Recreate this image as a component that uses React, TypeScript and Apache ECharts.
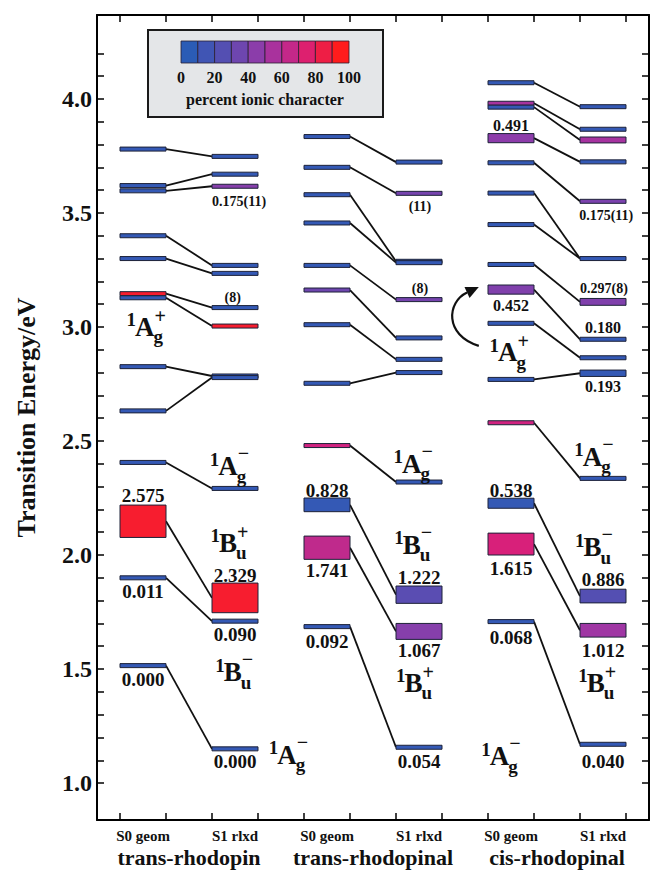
import React, { useEffect, useRef } from 'react';
import * as echarts from 'echarts';

const FONT = '"Liberation Serif", "Times New Roman", serif';

// ---------- categories / ticks ----------
const molecules = ['trans-rhodopin', 'trans-rhodopinal', 'cis-rhodopinal'];
const geometries = ['S0 geom', 'S1 rlxd'];
const s0Columns = [1, 5, 9];
const s1Columns = [3, 7, 11];
const moleculeCenters = [2, 6, 10];
const xTicks = [0.5, 1.5, 2.5, 3.5, 4.5, 5.5, 6.5, 7.5, 8.5, 9.5, 10.5, 11.5];
const xLabelValues = [1, 3, 5, 7, 9, 11];
const yTicks = [1.0, 1.1, 1.2, 1.3, 1.4, 1.5, 1.6, 1.7, 1.8, 1.9, 2.0, 2.1, 2.2, 2.3, 2.4, 2.5, 2.6, 2.7, 2.8, 2.9, 3.0, 3.1, 3.2, 3.3, 3.4, 3.5, 3.6, 3.7, 3.8, 3.9, 4.0, 4.1, 4.2];
const yLabelValues = [1.0, 1.5, 2.0, 2.5, 3.0, 3.5, 4.0];
const legendTickValues = [0, 20, 40, 60, 80, 100];
const legendCellValues = [0, 11, 22, 33, 44, 56, 67, 78, 89, 100];

// ---------- trans-rhodopin ----------
const tRhodopinS0Energy = [3.78, 3.62, 3.597, 3.40, 3.30, 3.146, 3.128, 2.826, 2.632, 2.406, 2.148, 1.90, 1.515];
const tRhodopinS0Ionic = [5, 5, 5, 5, 5, 95, 5, 5, 5, 5, 95, 5, 5];
const tRhodopinS0Span = [0, 0, 0, 0, 0, 0, 0, 0, 0, 0, 0.071, 0, 0];
const tRhodopinS1Energy = [3.748, 3.67, 3.617, 3.27, 3.235, 3.085, 3.004, 2.785, 2.778, 2.292, 1.812, 1.71, 1.15];
const tRhodopinS1Ionic = [5, 5, 42, 5, 5, 5, 95, 5, 5, 5, 95, 5, 5];
const tRhodopinS1Span = [0, 0, 0, 0, 0, 0, 0, 0, 0, 0, 0.065, 0, 0];
const tRhodopinLinks = [0, 1, 2, 3, 4, 5, 6, 7, 8, 9, 10, 11, 12];

// ---------- trans-rhodopinal ----------
const tRhodopinalS0Energy = [3.835, 3.70, 3.58, 3.456, 3.27, 3.162, 3.01, 2.753, 2.48, 2.22, 2.032, 1.686];
const tRhodopinalS0Ionic = [5, 5, 5, 5, 5, 33, 5, 5, 72, 5, 65, 5];
const tRhodopinalS0Span = [0, 0, 0, 0, 0, 0, 0, 0, 0, 0.03, 0.051, 0];
const tRhodopinalS1Energy = [3.723, 3.586, 3.288, 3.282, 3.12, 2.952, 2.858, 2.80, 2.32, 1.826, 1.665, 1.157];
const tRhodopinalS1Ionic = [5, 36, 5, 5, 36, 5, 5, 5, 5, 25, 42, 5];
const tRhodopinalS1Span = [0, 0, 0, 0, 0, 0, 0, 0, 0, 0.038, 0.035, 0];
const tRhodopinalLinks = [0, 1, 2, 3, 4, 5, 6, 7, 8, 9, 10, 11];

// ---------- cis-rhodopinal ----------
const cRhodopinalS0Energy = [4.071, 3.981, 3.964, 3.828, 3.72, 3.587, 3.449, 3.274, 3.164, 3.016, 2.77, 2.58, 2.227, 2.048, 1.708];
const cRhodopinalS0Ionic = [5, 55, 5, 45, 5, 5, 5, 5, 40, 5, 5, 72, 5, 75, 5];
const cRhodopinalS0Span = [0, 0, 0, 0.02, 0, 0, 0, 0, 0.02, 0, 0, 0, 0.022, 0.048, 0];
const cRhodopinalS1Energy = [3.966, 3.867, 3.82, 3.724, 3.551, 3.30, 3.11, 2.946, 2.865, 2.797, 2.336, 1.82, 1.67, 1.17];
const cRhodopinalS1Ionic = [5, 5, 55, 5, 38, 5, 40, 5, 5, 5, 5, 22, 52, 5];
const cRhodopinalS1Span = [0, 0, 0.013, 0, 0, 0, 0.015, 0, 0, 0.014, 0, 0.03, 0.03, 0];
const cRhodopinalLinks = [0, 1, 2, 3, 4, 5, 5, 6, 7, 8, 9, 10, 11, 12, 13];

// ---------- annotations ----------
const bigLabelText = ['2.575', '0.011', '0.000', '2.329', '0.090', '0.000', '0.828', '1.741', '0.092', '1.222', '1.067', '0.054', '0.538', '1.615', '0.068', '0.886', '1.012', '0.040'];
const bigLabelX = [1, 1, 1, 3, 3, 3, 5, 5, 5, 7, 7, 7, 9, 9, 9, 11, 11, 11];
const bigLabelE = [2.263, 1.84, 1.452, 1.912, 1.652, 1.095, 2.285, 1.934, 1.62, 1.902, 1.583, 1.095, 2.285, 1.94, 1.64, 1.893, 1.583, 1.095];

const midLabelText = ['0.491', '0.452', '0.180', '0.193'];
const midLabelX = [9, 9, 11, 11];
const midLabelE = [3.882, 3.092, 2.997, 2.738];

const smallLabelText = ['0.175(11)', '(8)', '(11)', '(8)', '0.175(11)', '0.297(8)'];
const smallLabelX = [3.09, 2.95, 7.02, 7.02, 11.07, 11.02];
const smallLabelE = [3.551, 3.13, 3.53, 3.168, 3.49, 3.17];

const termX = [1.04, 2.85, 2.85, 2.95, 4.13, 6.84, 6.84, 6.88, 8.93, 10.77, 10.77, 10.84, 8.75];
const termE = [3.0, 2.39, 2.053, 1.485, 1.124, 2.40, 2.044, 1.44, 2.89, 2.43, 2.034, 1.44, 1.117];
const termSymbol = ['A', 'A', 'B', 'B', 'A', 'A', 'B', 'B', 'A', 'A', 'B', 'B', 'A'];
const termSub = ['g', 'g', 'u', 'u', 'g', 'g', 'u', 'u', 'g', 'g', 'u', 'u', 'g'];
const termSign = ['+', '−', '+', '−', '−', '−', '−', '+', '+', '−', '−', '+', '−'];

// arrow (cis 1Ag+): start, control 1, control 2, tip (data coords)
const arrowPath = [[8.30, 2.917], [7.54, 2.965], [7.61, 3.11], [8.30, 3.175]];

const ionicStops = ['#2b5cb6', '#5a4db2', '#9a38a8', '#d8207a', '#ff1c1c'];
const ionicColor = (p: number) => echarts.color.lerp(Math.max(0, Math.min(1, p / 100)), ionicStops) as string;

function buildOption() {
  const cols = [
    { x: 1, E: tRhodopinS0Energy, I: tRhodopinS0Ionic, S: tRhodopinS0Span },
    { x: 3, E: tRhodopinS1Energy, I: tRhodopinS1Ionic, S: tRhodopinS1Span },
    { x: 5, E: tRhodopinalS0Energy, I: tRhodopinalS0Ionic, S: tRhodopinalS0Span },
    { x: 7, E: tRhodopinalS1Energy, I: tRhodopinalS1Ionic, S: tRhodopinalS1Span },
    { x: 9, E: cRhodopinalS0Energy, I: cRhodopinalS0Ionic, S: cRhodopinalS0Span },
    { x: 11, E: cRhodopinalS1Energy, I: cRhodopinalS1Ionic, S: cRhodopinalS1Span },
  ];
  const levelData: number[][] = [];
  cols.forEach((c) => c.E.forEach((e, i) => levelData.push([c.x, e, c.S[i], c.I[i]])));

  const mols = [
    { s0: tRhodopinS0Energy, s1: tRhodopinS1Energy, links: tRhodopinLinks },
    { s0: tRhodopinalS0Energy, s1: tRhodopinalS1Energy, links: tRhodopinalLinks },
    { s0: cRhodopinalS0Energy, s1: cRhodopinalS1Energy, links: cRhodopinalLinks },
  ];
  const linkData: any[] = [];
  mols.forEach((m, k) => {
    m.links.forEach((j, i) => {
      linkData.push({ coords: [[s0Columns[k] + 0.5, m.s0[i]], [s1Columns[k] - 0.5, m.s1[j]]] });
    });
  });

  const textSeries = (name: string, xs: number[], es: number[], texts: string[], size: number) => ({
    type: 'custom',
    name,
    coordinateSystem: 'cartesian2d',
    silent: true,
    z: 5,
    data: xs.map((x, i) => [x, es[i]]),
    renderItem: (params: any, api: any) => {
      const p = api.coord([api.value(0), api.value(1)]);
      return {
        type: 'text',
        x: p[0],
        y: p[1],
        style: {
          text: texts[params.dataIndex],
          fontSize: size,
          fontWeight: 'bold',
          fontFamily: FONT,
          fill: '#111',
          align: 'center',
          verticalAlign: 'middle',
        },
      };
    },
  });

  const geomFormatter = (v: number) => {
    const r = Math.round(v);
    return s0Columns.indexOf(r) >= 0 ? geometries[0] : geometries[1];
  };
  const moleculeFormatter = (v: number) => {
    const idx = moleculeCenters.indexOf(Math.round(v));
    return idx >= 0 ? molecules[idx] : '';
  };

  const axisLineStyle = { color: '#000', width: 2 };
  const tickStyle = { color: '#000', width: 1.5 };

  // legend (colour bar) graphic
  const boxL = 148, boxT = 30, boxW = 235, boxH = 87;
  const barL = 181, barT = 41, barW = 168, barH = 22;
  const cellW = barW / legendCellValues.length;
  const legendEls: any[] = [
    { type: 'rect', shape: { x: boxL, y: boxT, width: boxW, height: boxH }, style: { fill: '#e4e6e8', stroke: '#1a1a1a', lineWidth: 2 }, z: 10 },
  ];
  legendCellValues.forEach((v, i) => {
    legendEls.push({ type: 'rect', shape: { x: barL + i * cellW, y: barT, width: cellW, height: barH }, style: { fill: ionicColor(v), stroke: '#2a2030', lineWidth: 0.8 }, z: 11 });
  });
  legendTickValues.forEach((v) => {
    legendEls.push({ type: 'text', x: barL + (v / 100) * barW, y: 77, style: { text: String(v), fontSize: 16, fontWeight: 'bold', fontFamily: FONT, fill: '#111', align: 'center', verticalAlign: 'middle' }, z: 12 });
  });
  legendEls.push({ type: 'text', x: barL + barW / 2, y: 99, style: { text: 'percent ionic character', fontSize: 16, fontWeight: 'bold', fontFamily: FONT, fill: '#111', align: 'center', verticalAlign: 'middle' }, z: 12 });

  return {
    animation: false,
    backgroundColor: '#ffffff',
    textStyle: { fontFamily: FONT },
    grid: { left: 97, right: 2, top: 15, bottom: 50, containLabel: false, outerBoundsMode: 'none' },
    xAxis: [
      {
        type: 'value', min: 0, max: 12, position: 'bottom',
        axisLine: { show: true, onZero: false, lineStyle: axisLineStyle },
        axisTick: { show: true, inside: true, length: 7, customValues: xTicks, lineStyle: tickStyle },
        axisLabel: {
          show: true, customValues: xLabelValues, formatter: geomFormatter, margin: 8, color: '#111',
          showMinLabel: true, showMaxLabel: true, hideOverlap: false,
          fontSize: 15, fontWeight: 'bold', fontFamily: FONT,
        },
        splitLine: { show: false },
      },
      {
        type: 'value', min: 0, max: 12, position: 'top',
        axisLine: { show: true, onZero: false, lineStyle: axisLineStyle },
        axisTick: { show: true, inside: true, length: 7, customValues: xTicks, lineStyle: tickStyle },
        axisLabel: { show: false },
        splitLine: { show: false },
      },
      {
        type: 'value', min: 0, max: 12, position: 'bottom', offset: 0,
        axisLine: { show: false, onZero: false },
        axisTick: { show: false },
        axisLabel: {
          show: true, customValues: moleculeCenters, formatter: moleculeFormatter, margin: 26, color: '#111',
          showMinLabel: true, showMaxLabel: true, hideOverlap: false,
          fontSize: 22, fontWeight: 'bold', fontFamily: FONT,
        },
        splitLine: { show: false },
      },
    ],
    yAxis: [
      {
        type: 'value', min: 0.838, max: 4.368, position: 'left',
        name: 'Transition Energy/eV', nameLocation: 'middle', nameGap: 58,
        nameTextStyle: { fontFamily: FONT, fontSize: 26, fontWeight: 'bold', color: '#111' },
        axisLine: { show: true, onZero: false, lineStyle: axisLineStyle },
        axisTick: { show: true, inside: true, length: 7, customValues: yTicks, lineStyle: tickStyle },
        axisLabel: { show: true, customValues: yLabelValues, showMinLabel: true, showMaxLabel: true, formatter: (v: number) => v.toFixed(1), fontSize: 24, fontWeight: 'bold', fontFamily: FONT, color: '#111', margin: 5 },
        splitLine: { show: false },
      },
      {
        type: 'value', min: 0.838, max: 4.368, position: 'right',
        axisLine: { show: true, onZero: false, lineStyle: axisLineStyle },
        axisTick: { show: true, inside: true, length: 7, customValues: yTicks, lineStyle: tickStyle },
        axisLabel: { show: false },
        splitLine: { show: false },
      },
    ],
    graphic: legendEls,
    series: [
      {
        type: 'lines', name: 'links', coordinateSystem: 'cartesian2d', silent: true, z: 2,
        lineStyle: { color: '#111', width: 1.8, opacity: 1 },
        data: linkData,
      },
      {
        type: 'custom', name: 'levels', coordinateSystem: 'cartesian2d', silent: true, z: 3,
        data: levelData,
        renderItem: (params: any, api: any) => {
          const x = api.value(0), e = api.value(1), span = api.value(2), ion = api.value(3);
          const pL = api.coord([x - 0.5, e]);
          const pR = api.coord([x + 0.5, e]);
          const yT = api.coord([x, e + span])[1];
          const yB = api.coord([x, e - span])[1];
          const h = Math.max(yB - yT, 4);
          const cy = (yT + yB) / 2;
          return {
            type: 'rect',
            shape: { x: pL[0], y: cy - h / 2, width: pR[0] - pL[0], height: h },
            style: { fill: ionicColor(ion), stroke: '#1d2238', lineWidth: 1 },
          };
        },
      },
      textSeries('bigLabels', bigLabelX, bigLabelE, bigLabelText, 19),
      textSeries('midLabels', midLabelX, midLabelE, midLabelText, 16),
      textSeries('smallLabels', smallLabelX, smallLabelE, smallLabelText, 14),
      {
        type: 'custom', name: 'terms', coordinateSystem: 'cartesian2d', silent: true, z: 5,
        data: termX.map((x, i) => [x, termE[i]]),
        renderItem: (params: any, api: any) => {
          const i = params.dataIndex;
          const p = api.coord([api.value(0), api.value(1)]);
          const big = 27, small = 19;
          const lw = (termSymbol[i] === 'A' ? 0.722 : 0.667) * big;
          const base = { fontWeight: 'bold', fontFamily: FONT, fill: '#111', verticalAlign: 'middle' };
          const signDy = termSign[i] === '+' ? -11 : -13;
          return {
            type: 'group',
            children: [
              { type: 'text', x: p[0], y: p[1], style: { ...base, text: termSymbol[i], fontSize: big, align: 'center' } },
              { type: 'text', x: p[0] - lw / 2 + 1, y: p[1] - 7, style: { ...base, text: '1', fontSize: small, align: 'right' } },
              { type: 'text', x: p[0] + lw / 2 - 1, y: p[1] + 10, style: { ...base, text: termSub[i], fontSize: small, align: 'left' } },
              { type: 'text', x: p[0] + lw / 2, y: p[1] + signDy, style: { ...base, text: termSign[i], fontSize: 20, align: 'left' } },
            ],
          };
        },
      },
      {
        type: 'custom', name: 'arrow', coordinateSystem: 'cartesian2d', silent: true, z: 6,
        data: [arrowPath[0]],
        renderItem: (params: any, api: any) => {
          const s = api.coord(arrowPath[0]);
          const c1 = api.coord(arrowPath[1]);
          const c2 = api.coord(arrowPath[2]);
          const t = api.coord(arrowPath[3]);
          let dx = t[0] - c2[0], dy = t[1] - c2[1];
          const len = Math.sqrt(dx * dx + dy * dy) || 1;
          dx /= len; dy /= len;
          const headLen = 13, headW = 6;
          const bx = t[0] - dx * headLen, by = t[1] - dy * headLen;
          const px = -dy, py = dx;
          return {
            type: 'group',
            children: [
              { type: 'bezierCurve', shape: { x1: s[0], y1: s[1], cpx1: c1[0], cpy1: c1[1], cpx2: c2[0], cpy2: c2[1], x2: bx, y2: by }, style: { stroke: '#111', lineWidth: 2.2, fill: 'none' } },
              { type: 'polygon', shape: { points: [[t[0], t[1]], [bx + px * headW, by + py * headW], [bx - px * headW, by - py * headW]] }, style: { fill: '#111' } },
            ],
          };
        },
      },
    ],
  };
}

export default function App() {
  const ref = useRef<HTMLDivElement>(null);
  useEffect(() => {
    if (!ref.current) return;
    const chart = echarts.init(ref.current, undefined, { renderer: 'svg' });
    chart.setOption(buildOption() as any);
    return () => chart.dispose();
  }, []);
  return (
    <div
      ref={ref}
      style={{ position: 'absolute', left: 0, top: 0, width: 651, height: 870, background: '#fff' }}
    />
  );
}
